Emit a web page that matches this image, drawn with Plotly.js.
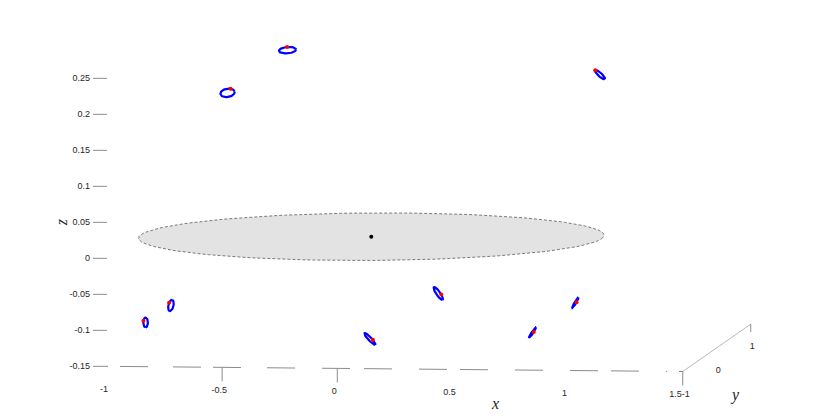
<!DOCTYPE html>
<html>
<head>
<meta charset="utf-8">
<script src="https://cdn.plot.ly/plotly-3.0.1.min.js"></script>
<style>
  html, body { margin: 0; padding: 0; background: #fff; }
  #chart { width: 830px; height: 417px; }
</style>
</head>
<body>
<div id="chart"></div>
<script>
// Axis ticks (data units)
const xTicks = [-1, -0.5, 0, 0.5, 1, 1.5];
const yTicks = [-1, 0, 1];
const zTicks = [-0.15, -0.1, -0.05, 0, 0.05, 0.1, 0.15, 0.2, 0.25];
const xTickMarks = [-0.5, 0, 1.5]; // the ones not lost in the dashed axis
const xLim = [-1, 1.5];
const yLim = [-1, 1];
const zFloor = -0.15;

// Reference disk (unit circle in z = 0 plane) and the body at its centre
const diskRadius = 1;
const diskZ = 0;
const centre = [0, 0, 0];

// Small loops: centre and two semi-axis vectors (x, z components)
const loopCx = [-0.364, -0.624, 0.993, -0.980, -0.870, -0.006, 0.291, 0.700, 0.886];
const loopCy = [0, 0, 0, 0, 0, 0, 0, 0, 0];
const loopCz = [0.258, 0.198, 0.228, -0.122, -0.098, -0.142, -0.078, -0.131, -0.089];
const loopAx = [0.0369, 0.0308, 0.0208, 0.0000, 0.0052, 0.0230, 0.0191, 0.0150, 0.0130];
const loopAz = [0.0011, 0.0017, -0.0060, -0.0069, 0.0078, -0.0078, -0.0086, 0.0074, 0.0072];
const loopBx = [0.0013, 0.0030, -0.0052, 0.0100, 0.0109, -0.0052, -0.0069, 0.0029, 0.0030];
const loopBz = [-0.0044, -0.0057, -0.0019, 0.0000, -0.0007, -0.0016, -0.0017, -0.0006, -0.0006];
const dotPhase = [270, 300, 180, 250, 293, 290, 290, 80, 80]; // degrees along each loop

// Orthographic view used to flatten the 3-D scene onto the page
const view = { u0: 371.3, ux: 230.3, uy: 34, v0: 236.7, vx: 2.08, vy: -23.7, vz: -720 };

function proj(x, y, z) {
  return [view.u0 + x * view.ux + y * view.uy,
          view.v0 + x * view.vx + y * view.vy + z * view.vz];
}

function deg(a) { return a * Math.PI / 180; }

const traces = [];

// grey disk
const disk = { x: [], y: [] };
for (let a = 0; a <= 360; a += 2) {
  const p = proj(diskRadius * Math.cos(deg(a)), diskRadius * Math.sin(deg(a)), diskZ);
  disk.x.push(p[0]);
  disk.y.push(p[1]);
}
traces.push({
  x: disk.x, y: disk.y, mode: 'lines', fill: 'toself',
  fillcolor: 'rgb(227,227,227)',
  line: { color: '#7a7a7a', width: 1, dash: '3px,2px' },
  hoverinfo: 'skip'
});

// centre point
const c = proj(centre[0], centre[1], centre[2]);
traces.push({
  x: [c[0]], y: [c[1]], mode: 'markers',
  marker: { color: '#000', size: 4 }, hoverinfo: 'skip'
});

// loops
const lx = [], ly = [], dx = [], dy = [];
for (let i = 0; i < loopCx.length; i++) {
  for (let a = 0; a <= 360; a += 6) {
    const ca = Math.cos(deg(a)), sa = Math.sin(deg(a));
    const p = proj(loopCx[i] + loopAx[i] * ca + loopBx[i] * sa,
                   loopCy[i],
                   loopCz[i] + loopAz[i] * ca + loopBz[i] * sa);
    lx.push(p[0]);
    ly.push(p[1]);
  }
  lx.push(null);
  ly.push(null);
  const ca = Math.cos(deg(dotPhase[i])), sa = Math.sin(deg(dotPhase[i]));
  const q = proj(loopCx[i] + loopAx[i] * ca + loopBx[i] * sa,
                 loopCy[i],
                 loopCz[i] + loopAz[i] * ca + loopBz[i] * sa);
  dx.push(q[0]);
  dy.push(q[1]);
}
traces.push({
  x: lx, y: ly, mode: 'lines',
  line: { color: '#0000ff', width: 2.2 }, hoverinfo: 'skip'
});
traces.push({
  x: dx, y: dy, mode: 'markers',
  marker: { color: '#ff0000', size: 4 }, hoverinfo: 'skip'
});

// x axis (dashed, as exported)
const xa0 = proj(xLim[0], yLim[0], zFloor);
const xa1 = proj(xLim[1], yLim[0], zFloor);
traces.push({
  x: [xa0[0], xa1[0]], y: [xa0[1], xa1[1]], mode: 'lines',
  line: { color: '#8c8c8c', width: 1,
          dash: '1px,12px,28px,25px,28px,12px,28px,26px,28px,27px,28px,14px,28px,27px,28px,13px,28px,27px,28px,27px,28px,13px,28px,27px' },
  hoverinfo: 'skip'
});

// y axis
const ya1 = proj(xLim[1], yLim[1], zFloor);
traces.push({
  x: [xa1[0], ya1[0]], y: [xa1[1], ya1[1]], mode: 'lines',
  line: { color: '#a6a6a6', width: 0.8 }, hoverinfo: 'skip'
});

// tick marks
const tx = [], ty = [];
xTickMarks.forEach(function(v) {
  const p = proj(v, yLim[0], zFloor);
  tx.push(p[0], p[0], null);
  ty.push(p[1], p[1] + 14, null);
});
tx.push(ya1[0], ya1[0], null);
ty.push(ya1[1], ya1[1] + 8, null);
zTicks.forEach(function(v) {
  const p = proj(xLim[0], yLim[0], v);
  tx.push(p[0] - 14, p[0], null);
  ty.push(p[1], p[1], null);
});
traces.push({
  x: tx, y: ty, mode: 'lines',
  line: { color: '#8c8c8c', width: 1 }, hoverinfo: 'skip'
});

// tick labels
const tickFont = { family: 'Liberation Sans, Arial, sans-serif', size: 9, color: '#262626' };
const xl = { x: [], y: [], text: [], pos: [] };
xTicks.forEach(function(v, i) {
  const p = proj(v, yLim[0], zFloor);
  const last = i === xTicks.length - 1;
  xl.x.push(last ? p[0] - 1 : p[0] - 3);
  xl.y.push(p[1] + 23);
  xl.text.push(String(v));
  xl.pos.push(last ? 'middle left' : 'middle center');
});
traces.push({
  x: xl.x, y: xl.y, text: xl.text, mode: 'text', textposition: xl.pos,
  textfont: tickFont, hoverinfo: 'skip'
});

const yl = { x: [], y: [], text: [] };
yTicks.forEach(function(v) {
  const p = proj(xLim[1], v, zFloor);
  yl.x.push(p[0] - 1);
  yl.y.push(p[1] + 23);
  yl.text.push(String(v));
});
traces.push({
  x: yl.x, y: yl.y, text: yl.text, mode: 'text', textposition: 'middle right',
  textfont: tickFont, hoverinfo: 'skip'
});

const zl = { x: [], y: [], text: [] };
zTicks.forEach(function(v) {
  const p = proj(xLim[0], yLim[0], v);
  zl.x.push(p[0] - 17);
  zl.y.push(p[1]);
  zl.text.push(String(v));
});
traces.push({
  x: zl.x, y: zl.y, text: zl.text, mode: 'text', textposition: 'middle left',
  textfont: tickFont, hoverinfo: 'skip'
});

const titleFont = { family: 'Liberation Serif, Times New Roman, serif', size: 16, color: '#262626' };

const layout = {
  width: 830,
  height: 417,
  margin: { t: 0, b: 0, l: 0, r: 0 },
  paper_bgcolor: '#fff',
  plot_bgcolor: '#fff',
  showlegend: false,
  xaxis: { range: [0, 830], visible: false, fixedrange: true },
  yaxis: { range: [417, 0], visible: false, fixedrange: true },
  annotations: [
    { text: '<i>x</i>', xref: 'paper', yref: 'paper', x: 0.5964, y: 0.033,
      xanchor: 'center', yanchor: 'middle', showarrow: false, font: titleFont },
    { text: '<i>y</i>', xref: 'paper', yref: 'paper', x: 0.8855, y: 0.052,
      xanchor: 'center', yanchor: 'middle', showarrow: false, font: titleFont },
    { text: '<i>z</i>', xref: 'paper', yref: 'paper', x: 0.0743, y: 0.466,
      xanchor: 'center', yanchor: 'middle', showarrow: false, textangle: -90, font: titleFont }
  ]
};

const config = { responsive: false, displayModeBar: false, staticPlot: true };

Plotly.newPlot('chart', traces, layout, config);
</script>
</body>
</html>
